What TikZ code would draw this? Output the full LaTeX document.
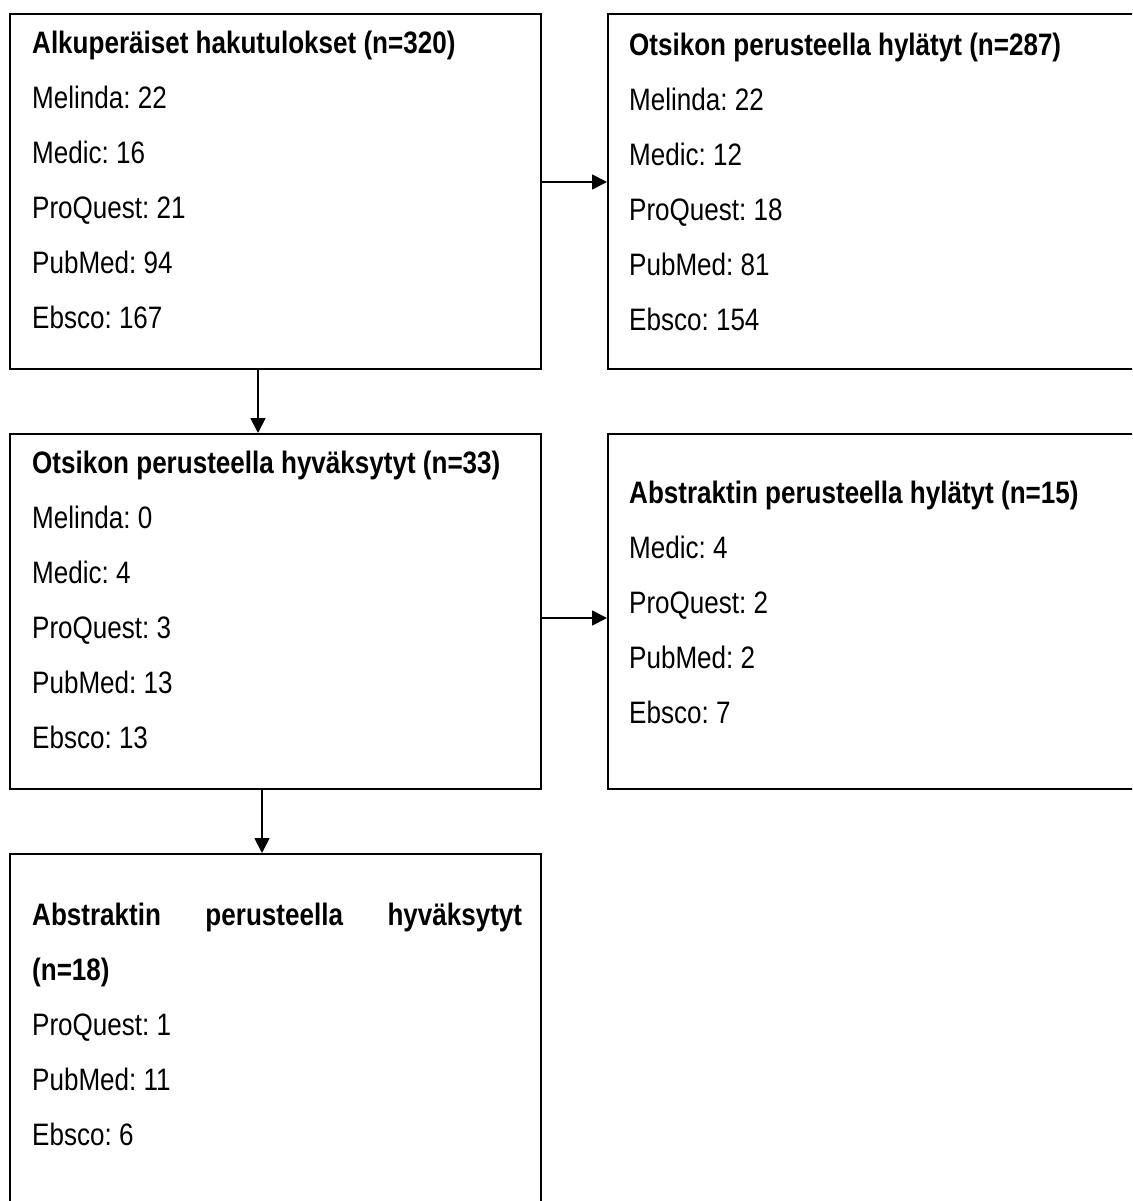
\documentclass[tikz,border=0pt]{standalone}
\usepackage{fontspec}
\setmainfont{Liberation Sans}[FakeStretch=0.84]
\frenchspacing
\usetikzlibrary{positioning,arrows.meta}
\tikzset{
  >={Triangle[length=15pt,width=15pt]},
  % --- nodes
  box/.style = {draw=black, line width=1.8pt, minimum width=531pt,
                minimum height=355pt, inner sep=0pt, anchor=north west},
  txt/.style = {anchor=base west, align=left, inner sep=0pt,
                font=\fontsize{31pt}{55pt}\selectfont},
  % --- edges
  arr/.style = {->, line width=1.8pt},
}
\begin{document}
\begin{tikzpicture}[x=1pt,y=-1pt]
  \clip (0,0) rectangle (1132,1201);
  \fill[white] (0,0) rectangle (1132,1201);

  \node[box] (orig)  at (9,13)  {};
  \node[box, minimum width=560pt] (excl1) at (607,13) {};
  \node[box] (incl1) at (9,433) {};
  \node[box, minimum width=560pt] (excl2) at (607,433) {};
  \node[box, minimum height=400pt] (incl2) at (9,853) {};

  % text nodes sit on the baseline of their last line
  \node[txt] (origtxt) at (32,328)
    {\textbf{Alkuperäiset hakutulokset (n=320)}\\Melinda: 22\\Medic: 16\\
     ProQuest: 21\\PubMed: 94\\Ebsco: 167};
  \node[txt] (excl1txt) at (629,330)
    {\textbf{Otsikon perusteella hylätyt (n=287)}\\Melinda: 22\\Medic: 12\\
     ProQuest: 18\\PubMed: 81\\Ebsco: 154};
  \node[txt] (incl1txt) at (32,748)
    {\textbf{Otsikon perusteella hyväksytyt (n=33)}\\Melinda: 0\\Medic: 4\\
     ProQuest: 3\\PubMed: 13\\Ebsco: 13};
  \node[txt] (excl2txt) at (629,723)
    {\textbf{Abstraktin perusteella hylätyt (n=15)}\\Medic: 4\\ProQuest: 2\\
     PubMed: 2\\Ebsco: 7};
  \node[txt] (incl2txt) at (32,1145)
    {\makebox[490pt][s]{\bfseries Abstraktin perusteella hyväksytyt}\\
     \textbf{(n=18)}\\ProQuest: 1\\PubMed: 11\\Ebsco: 6};

  \draw[arr] (orig.east |- 0,182) -- (excl1.west |- 0,182);
  \draw[arr] (orig.south -| 258,0) -- (incl1.north -| 258,0);
  \draw[arr] (incl1.east |- 0,618) -- (excl2.west |- 0,618);
  \draw[arr] (incl1.south -| 262,0) -- (incl2.north -| 262,0);
\end{tikzpicture}
\end{document}
